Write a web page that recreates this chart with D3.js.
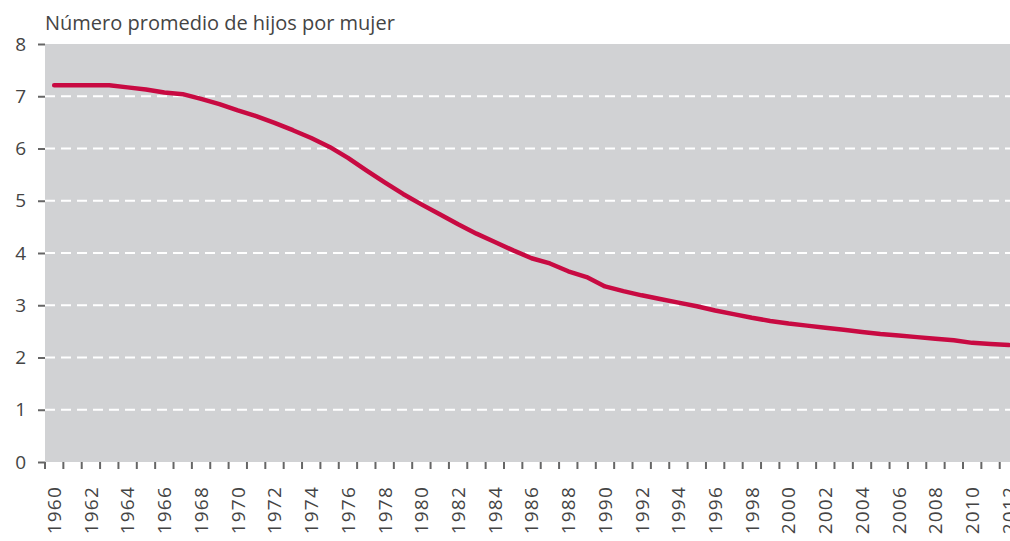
<!DOCTYPE html>
<html>
<head>
<meta charset="utf-8">
<script src="https://cdn.jsdelivr.net/npm/d3@7"></script>
<style>
  html, body { margin: 0; padding: 0; background: #ffffff; }
  svg { display: block; }
  text { font-family: "Open Sans", "Noto Sans", sans-serif; font-weight: 400; fill: #444444; }
</style>
</head>
<body>
<svg id="chart" width="1010" height="541"></svg>
<script>
// Fecundidad: número promedio de hijos por mujer, 1960–2012
const years = d3.range(1960, 2013);
const fertility = [
  7.21, 7.21, 7.21, 7.21, 7.17, 7.13, 7.07, 7.04, 6.95, 6.85,
  6.73, 6.62, 6.49, 6.35, 6.20, 6.03, 5.82, 5.58, 5.35, 5.13,
  4.93, 4.74, 4.55, 4.37, 4.21, 4.05, 3.90, 3.80, 3.65, 3.54,
  3.36, 3.27, 3.19, 3.12, 3.05, 2.98, 2.90, 2.83, 2.76, 2.70,
  2.65, 2.61, 2.57, 2.53, 2.49, 2.45, 2.42, 2.39, 2.36, 2.33,
  2.28, 2.26, 2.24
];
const yTicks = [0, 1, 2, 3, 4, 5, 6, 7, 8];
const xLabelYears = years.filter(y => (y - 1960) % 2 === 0);
const title = "Número promedio de hijos por mujer";

const svg = d3.select("#chart");
const plotLeft = 45, plotTop = 44, plotBottom = 462;
const step = 18.36;

const x = d3.scaleBand()
  .domain(years)
  .range([plotLeft, plotLeft + years.length * step])
  .padding(0);

const y = d3.scaleLinear()
  .domain([0, 8])
  .range([plotBottom, plotTop]);

// plot background
svg.append("rect")
  .attr("x", plotLeft)
  .attr("y", y(8))
  .attr("width", x.range()[1] - plotLeft)
  .attr("height", y(0) - y(8))
  .attr("fill", "#d1d2d4");

// dashed horizontal gridlines
svg.append("g")
  .selectAll("line")
  .data(yTicks.filter(d => d > 0 && d < 8))
  .join("line")
  .attr("x1", plotLeft)
  .attr("x2", x.range()[1])
  .attr("y1", d => y(d))
  .attr("y2", d => y(d))
  .attr("stroke", "#ffffff")
  .attr("stroke-width", 2)
  .attr("stroke-dasharray", "10,6");

// y axis
const yAxis = svg.append("g")
  .attr("transform", `translate(${plotLeft},0)`)
  .call(d3.axisLeft(y).tickValues(yTicks).tickSize(7).tickPadding(12).tickFormat(d3.format("d")));
yAxis.select(".domain").remove();
yAxis.selectAll(".tick line").attr("stroke", "#666").attr("stroke-width", 2);
yAxis.selectAll(".tick text")
  .attr("font-size", 19)
  .attr("fill", "#444444")
  .style("font-family", "'Open Sans', sans-serif")
  .style("font-weight", 400);

// x axis: ticks on band boundaries, labels every other year
const xg = svg.append("g").attr("class", "x-axis");
xg.selectAll("line")
  .data(years)
  .join("line")
  .attr("x1", d => x(d))
  .attr("x2", d => x(d))
  .attr("y1", plotBottom)
  .attr("y2", plotBottom + 7)
  .attr("stroke", "#666")
  .attr("stroke-width", 2);

xg.selectAll("text")
  .data(xLabelYears)
  .join("text")
  .attr("transform", d => `translate(${x(d) + x.bandwidth() / 2},${plotBottom + 24}) rotate(-90)`)
  .attr("text-anchor", "end")
  .attr("dy", "0.36em")
  .attr("font-size", 19)
  .attr("letter-spacing", 1.2)
  .text(d => d);

// fertility line
const line = d3.line()
  .x((d, i) => x(years[i]) + x.bandwidth() / 2)
  .y(d => y(d));

svg.append("path")
  .datum(fertility)
  .attr("fill", "none")
  .attr("stroke", "#c80a42")
  .attr("stroke-width", 4.5)
  .attr("stroke-linecap", "round")
  .attr("stroke-linejoin", "round")
  .attr("d", line);

// title
svg.append("text")
  .attr("x", 45)
  .attr("y", 30)
  .attr("font-size", 20)
  .text(title);
</script>
</body>
</html>
